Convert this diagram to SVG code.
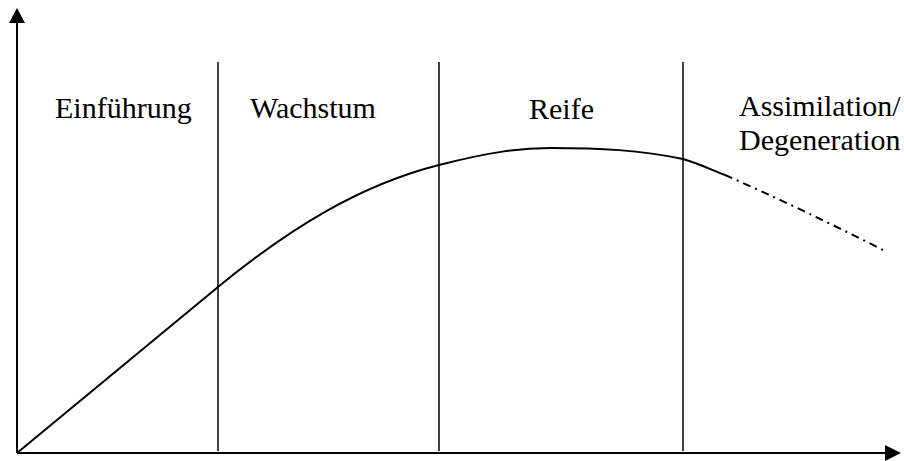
<svg xmlns="http://www.w3.org/2000/svg" width="904" height="461" viewBox="0 0 904 461">
<style>
.lbl{font-family:"Liberation Serif","Times New Roman",serif;font-size:30px;fill:#000}
.ax{stroke:#000;stroke-width:2;fill:none}
.div{stroke:#000;stroke-width:1.5;fill:none}
.crv{stroke:#000;stroke-width:2;fill:none}
</style>
<rect width="904" height="461" fill="#fff"/>
<g id="axes">
<line class="ax" x1="17" y1="453" x2="17" y2="20"/>
<polygon points="17,8 9,23 25,23" fill="#000"/>
<line class="ax" x1="17" y1="453" x2="887" y2="453"/>
<polygon points="901,453 885,445 885,461" fill="#000"/>
</g>
<g id="dividers">
<line class="div" x1="218" y1="62" x2="218" y2="451"/>
<line class="div" x1="439" y1="62" x2="439" y2="451"/>
<line class="div" x1="683" y1="62" x2="683" y2="451"/>
</g>
<g id="connectors">
<path class="crv" d="M17,453 C90,393 160,335 218,287 C290,228 360,185 439,165 C490,152 520,148 550,148 C600,148 640,150 683,159 C700,164 712,170 725,175"/>
<path class="crv" d="M725,175 Q800,208 883,250" stroke-dasharray="8 5 2 5"/>
</g>
<g id="phase-einfuehrung"><text class="lbl" x="55" y="118">Einführung</text></g>
<g id="phase-wachstum"><text class="lbl" x="250" y="118">Wachstum</text></g>
<g id="phase-reife"><text class="lbl" x="529" y="119">Reife</text></g>
<g id="phase-assimilation"><text class="lbl" x="739" y="116">Assimilation/</text><text class="lbl" x="739" y="150">Degeneration</text></g>
</svg>
